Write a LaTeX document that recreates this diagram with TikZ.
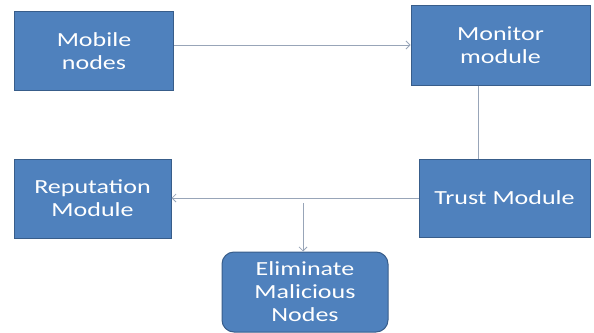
\documentclass[tikz,border=0pt]{standalone}
\usepackage{fontspec}
\setmainfont{Carlito}[FakeStretch=1.3]
\usetikzlibrary{arrows.meta}
\definecolor{boxfill}{HTML}{4F81BD}
\definecolor{boxline}{HTML}{385D8A}
\definecolor{linkgray}{HTML}{98A5B8}
\tikzset{
  block/.style={draw=boxline, fill=boxfill, line width=1pt, text=white,
    align=center, inner sep=0pt, font=\fontsize{20}{23}\selectfont},
  link/.style={draw=linkgray, line width=1pt},
  arrowlink/.style={link, -{Straight Barb[length=4pt,width=8pt,line width=0.8pt]}}
}
\begin{document}
\begin{tikzpicture}[x=1pt,y=-1pt]
  \useasboundingbox (0,0) rectangle (594,332);
  % boxes
  \node[block, minimum width=159pt, minimum height=79pt] (mobile) at (94,51) {Mobile\\nodes};
  \node[block, minimum width=179pt, minimum height=80pt] (monitor) at (500.5,45) {Monitor\\module};
  \node[block, minimum width=171pt, minimum height=78pt] (trust) at (504.5,198) {Trust Module};
  \node[block, minimum width=157pt, minimum height=79pt] (reputation) at (92.5,198.5) {Reputation\\Module};
  \node[block, rounded corners=12pt, minimum width=166pt, minimum height=80pt] (elim) at (305,292) {Eliminate\\Malicious\\Nodes};
  % connectors
  \coordinate (vline) at (478,0);
  \coordinate (branch) at (303,203);
  \draw[arrowlink] (mobile.east |- monitor.west) -- (monitor.west);
  \draw[link] (monitor.south -| vline) -- (trust.north -| vline);
  \draw[arrowlink] (trust.west) -- (trust.west -| reputation.east);
  \draw[arrowlink] (branch) -- (elim.north -| branch);
\end{tikzpicture}
\end{document}
